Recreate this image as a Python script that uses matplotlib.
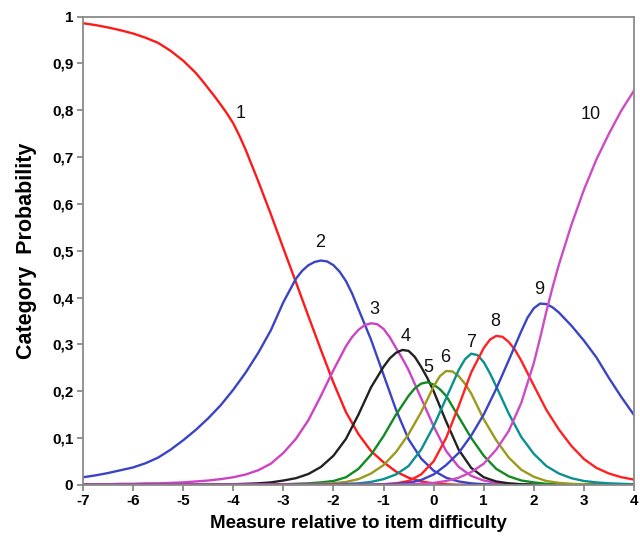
import matplotlib
matplotlib.use("Agg")
import matplotlib.pyplot as plt
import numpy as np

plt.rcParams['font.family'] = ['Liberation Sans', 'DejaVu Sans']

# Measure (logits) at which the curves were read
measure = [-7.0, -6.75, -6.5, -6.25, -6.0, -5.75, -5.5, -5.25, -5.0, -4.75, -4.5, -4.25,
           -4.0, -3.75, -3.5, -3.25, -3.0, -2.75, -2.5, -2.25, -2.0, -1.75, -1.5, -1.25,
           -1.0, -0.75, -0.5, -0.25, 0.0, 0.25, 0.5, 0.75, 1.0, 1.25, 1.5, 1.75,
           2.0, 2.25, 2.5, 2.75, 3.0, 3.25, 3.5, 3.75, 4.0]

cat1 = [0.986, 0.982, 0.977, 0.971, 0.964, 0.955, 0.944, 0.927, 0.906, 0.880, 0.847, 0.812,
        0.772, 0.715, 0.648, 0.578, 0.505, 0.433, 0.360, 0.288, 0.218, 0.155, 0.108, 0.072,
        0.048, 0.028, 0.015, 0.007, 0.003, 0.001, 0, 0, 0, 0, 0, 0,
        0, 0, 0, 0, 0, 0, 0, 0, 0]
cat2 = [0.016, 0.020, 0.025, 0.031, 0.037, 0.046, 0.058, 0.075, 0.095, 0.117, 0.142, 0.170,
        0.203, 0.240, 0.282, 0.330, 0.390, 0.440, 0.469, 0.479, 0.469, 0.435, 0.375, 0.310,
        0.235, 0.160, 0.097, 0.056, 0.030, 0.015, 0.007, 0.003, 0.001, 0, 0, 0,
        0, 0, 0, 0, 0, 0, 0, 0, 0]
cat3 = [0.001, 0.001, 0.001, 0.002, 0.002, 0.003, 0.003, 0.004, 0.005, 0.007, 0.009, 0.012,
        0.016, 0.022, 0.031, 0.045, 0.068, 0.098, 0.138, 0.190, 0.245, 0.296, 0.331, 0.345,
        0.333, 0.292, 0.245, 0.185, 0.125, 0.072, 0.038, 0.019, 0.009, 0.004, 0.002, 0.001,
        0, 0, 0, 0, 0, 0, 0, 0, 0]
cat4 = [0, 0, 0, 0, 0, 0, 0, 0, 0, 0, 0.001, 0.001,
        0.001, 0.002, 0.003, 0.005, 0.009, 0.014, 0.023, 0.038, 0.062, 0.098, 0.150, 0.208,
        0.252, 0.282, 0.286, 0.252, 0.200, 0.135, 0.075, 0.036, 0.016, 0.007, 0.003, 0.001,
        0, 0, 0, 0, 0, 0, 0, 0, 0]
cat5 = [0, 0, 0, 0, 0, 0, 0, 0, 0, 0, 0, 0,
        0, 0, 0, 0, 0.001, 0.002, 0.003, 0.005, 0.008, 0.016, 0.034, 0.064,
        0.104, 0.150, 0.190, 0.216, 0.214, 0.190, 0.145, 0.100, 0.062, 0.034, 0.018, 0.009,
        0.005, 0.002, 0.001, 0, 0, 0, 0, 0, 0]
cat6 = [0, 0, 0, 0, 0, 0, 0, 0, 0, 0, 0, 0,
        0, 0, 0, 0, 0, 0, 0.001, 0.002, 0.003, 0.006, 0.012, 0.024,
        0.042, 0.070, 0.108, 0.155, 0.210, 0.243, 0.232, 0.195, 0.140, 0.095, 0.058, 0.032,
        0.017, 0.008, 0.004, 0.002, 0.001, 0, 0, 0, 0]
cat7 = [0, 0, 0, 0, 0, 0, 0, 0, 0, 0, 0, 0,
        0, 0, 0, 0, 0, 0, 0, 0, 0.001, 0.002, 0.003, 0.006,
        0.012, 0.022, 0.040, 0.075, 0.125, 0.185, 0.245, 0.280, 0.262, 0.210, 0.152, 0.102,
        0.066, 0.040, 0.024, 0.014, 0.008, 0.005, 0.003, 0.002, 0.001]
cat8 = [0, 0, 0, 0, 0, 0, 0, 0, 0, 0, 0, 0,
        0, 0, 0, 0, 0, 0, 0, 0, 0, 0, 0, 0,
        0.001, 0.003, 0.008, 0.022, 0.050, 0.100, 0.168, 0.240, 0.292, 0.318, 0.305, 0.265,
        0.212, 0.160, 0.118, 0.083, 0.055, 0.036, 0.024, 0.016, 0.011]
cat9 = [0, 0, 0, 0, 0, 0, 0, 0, 0, 0, 0, 0,
        0, 0, 0, 0, 0, 0, 0, 0, 0, 0, 0, 0,
        0.001, 0.002, 0.004, 0.010, 0.022, 0.042, 0.068, 0.105, 0.150, 0.205, 0.266, 0.328,
        0.377, 0.386, 0.368, 0.340, 0.308, 0.272, 0.228, 0.187, 0.149]
cat10 = [0, 0, 0, 0, 0, 0, 0, 0, 0, 0, 0, 0,
         0, 0, 0, 0, 0, 0, 0, 0, 0, 0, 0, 0,
         0, 0, 0.001, 0.002, 0.004, 0.008, 0.015, 0.027, 0.045, 0.075, 0.115, 0.175,
         0.260, 0.370, 0.470, 0.555, 0.630, 0.695, 0.750, 0.800, 0.842]

# extra readings taken between grid points around each curve's bend
cat1_x_extra = [-4.625, -4.375, -4.125, -3.875]
cat1_extra = [0.864, 0.830, 0.793, 0.745]
cat2_x_extra = [-2.625, -2.375, -2.125, -1.875, -1.625]
cat2_extra = [0.457, 0.476, 0.477, 0.455, 0.408]
cat3_x_extra = [-1.625, -1.375, -1.125, -0.875, -0.625]
cat3_extra = [0.316, 0.341, 0.343, 0.315, 0.270]
cat4_x_extra = [-0.875, -0.625, -0.375, -0.125]
cat4_extra = [0.270, 0.288, 0.273, 0.228]
cat5_x_extra = [-0.375, -0.125, 0.125]
cat5_extra = [0.206, 0.219, 0.204]
cat6_x_extra = [0.125, 0.375, 0.625]
cat6_extra = [0.232, 0.242, 0.216]
cat7_x_extra = [0.625, 0.875, 1.125]
cat7_extra = [0.268, 0.277, 0.238]
cat8_x_extra = [1.125, 1.375, 1.625]
cat8_extra = [0.310, 0.316, 0.288]
cat9_x_extra = [1.875, 2.125, 2.375]
cat9_extra = [0.357, 0.387, 0.379]
cat10_x_extra = [2.125, 2.375]
cat10_extra = [0.313, 0.422]

series = [cat1, cat2, cat3, cat4, cat5, cat6, cat7, cat8, cat9, cat10]
extras_x = [cat1_x_extra, cat2_x_extra, cat3_x_extra, cat4_x_extra, cat5_x_extra,
            cat6_x_extra, cat7_x_extra, cat8_x_extra, cat9_x_extra, cat10_x_extra]
extras_y = [cat1_extra, cat2_extra, cat3_extra, cat4_extra, cat5_extra,
            cat6_extra, cat7_extra, cat8_extra, cat9_extra, cat10_extra]
names = ["1", "2", "3", "4", "5", "6", "7", "8", "9", "10"]
colors = ["#ff1a1a", "#3a44c4", "#cc44c4", "#222222", "#118a22",
          "#9a9a1c", "#0a9090", "#ff2222", "#3a44c4", "#cc4cc4"]
# label anchor positions (measure, probability)
label_x = [-3.85, -2.26, -1.19, -0.56, -0.11, 0.24, 0.74, 1.24, 2.10, 3.13]
label_y = [0.794, 0.517, 0.374, 0.317, 0.251, 0.272, 0.303, 0.349, 0.417, 0.790]

xticks = [-7, -6, -5, -4, -3, -2, -1, 0, 1, 2, 3, 4]
xtick_labels = ["-7", "-6", "-5", "-4", "-3", "-2", "-1", "0", "1", "2", "3", "4"]
yticks = [0, 0.1, 0.2, 0.3, 0.4, 0.5, 0.6, 0.7, 0.8, 0.9, 1.0]
ytick_labels = ["0", "0,1", "0,2", "0,3", "0,4", "0,5", "0,6", "0,7", "0,8", "0,9", "1"]

fig = plt.figure(figsize=(6.4, 5.38), dpi=100)
ax = fig.add_axes([0.1297, 0.099, 0.8609, 0.870])

for vals, ex_x, ex_y, c in zip(series, extras_x, extras_y, colors):
    xs = np.array(list(measure) + list(ex_x))
    ys = np.array(list(vals) + list(ex_y))
    order = np.argsort(xs)
    ax.plot(xs[order], ys[order], color=c, lw=1.7, solid_joinstyle='round')

for n, lx, ly in zip(names, label_x, label_y):
    ax.text(lx, ly, n, ha='center', va='center', fontsize=13, color='#111111')

ax.set_xlim(-7, 4)
ax.set_ylim(0, 1)
ax.set_xticks(xticks)
ax.set_xticklabels(xtick_labels, fontsize=11, fontweight='bold')
ax.set_yticks(yticks)
ax.set_yticklabels(ytick_labels, fontsize=11, fontweight='bold')
ax.tick_params(axis='both', direction='out', length=4, width=1.2, color='#808080', pad=3)

for s in ax.spines.values():
    s.set_color('#8a8a8a')
    s.set_linewidth(1.3)

ax.set_xlabel("Measure relative to item difficulty", fontsize=13.5, fontweight='bold')
ax.xaxis.label.set_va('center')
ax.xaxis.set_label_coords(0.5, -0.082)
ax.set_ylabel("Category  Probability", fontsize=15.5, fontweight='bold')
ax.yaxis.label.set_va('center')
ax.yaxis.label.set_ha('center')
ax.yaxis.set_label_coords(-0.103, 0.5)

fig.savefig("out.png", dpi=100)
